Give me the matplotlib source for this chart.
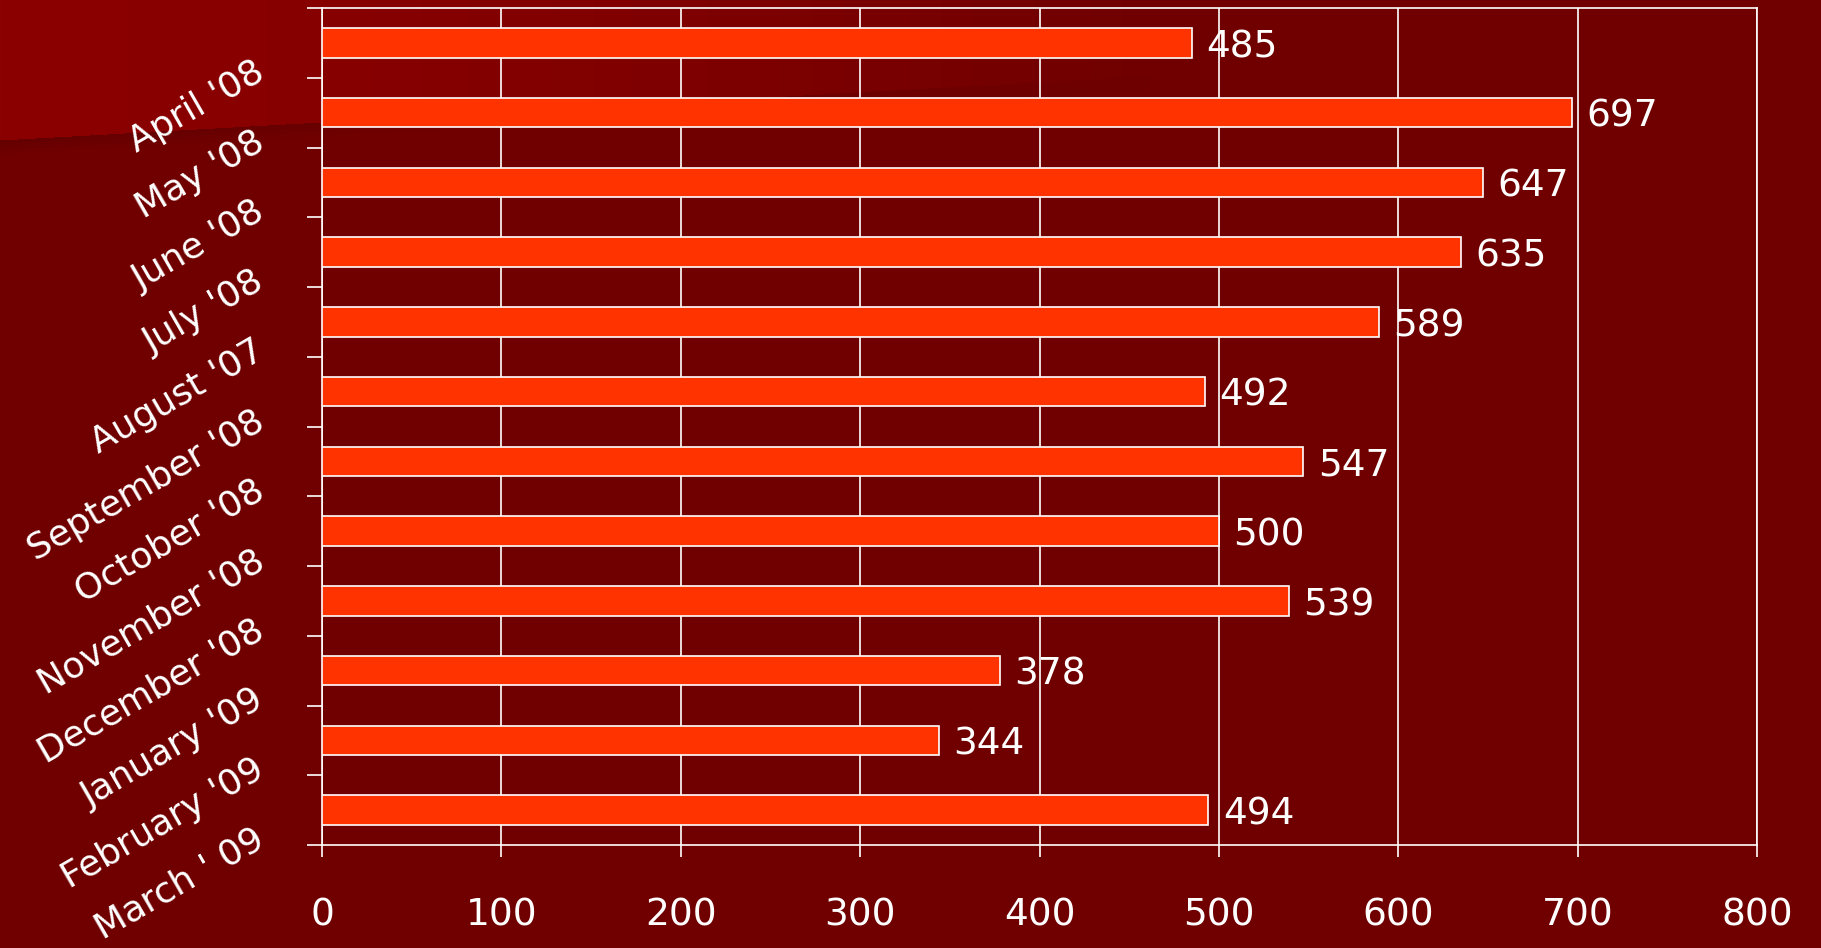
import numpy as np
import matplotlib
matplotlib.use('Agg')
import matplotlib.pyplot as plt
import matplotlib.transforms as mtransforms

months = ["April '08", "May '08", "June '08", "July '08", "August '07",
          "September '08", "October '08", "November '08", "December '08",
          "January '09", "February '09", "March ' 09"]
values = [485, 697, 647, 635, 589, 492, 547, 500, 539, 378, 344, 494]
xticks = [0, 100, 200, 300, 400, 500, 600, 700, 800]

plt.rcParams['font.family'] = 'DejaVu Sans'

W, H = 1821, 948
fig = plt.figure(figsize=(W / 100, H / 100), dpi=100)

# background: dark red with a lighter sloped panel in the top-left
xx, yy = np.meshgrid(np.arange(W), np.arange(H))
bg = np.zeros((H, W, 3))
bg[..., 0] = 112 / 255
edge = 140 - 0.056 * xx
top = yy < edge
light = 112 + 27 * np.clip(1 - (xx / 1150) ** 1.5, 0, 1)
bg[..., 0] = np.where(top, light / 255, bg[..., 0])
shadow = (yy >= edge) & (yy < edge + 14)
shade = 100 + 12 * (yy - edge) / 14
shade = shade + (112 - shade) * np.clip(xx / 1150, 0, 1)
bg[..., 0] = np.where(shadow, shade / 255, bg[..., 0])
bax = fig.add_axes([0, 0, 1, 1], zorder=-1)
bax.imshow(bg, aspect='auto', interpolation='nearest')
bax.axis('off')

ax = fig.add_axes([322 / W, 1 - 845 / H, (1757 - 322) / W, (845 - 8) / H])
ax.set_facecolor('none')

y = np.arange(len(months))
ax.barh(y, values, height=0.42, color='#FF3300', edgecolor='white',
        linewidth=1.2, zorder=3)

for yi, v in zip(y, values):
    ax.annotate(str(v), (v, yi), xytext=(10.5, -3), textcoords='offset points',
                ha='left', va='center', color='white', fontsize=27)

ax.set_xlim(0, 800)
ax.set_ylim(len(months) - 0.5, -0.5)
ax.set_xticks(xticks)
ax.set_xticklabels([str(t) for t in xticks], fontsize=27, color='white')
ax.tick_params(axis='x', length=8.6, width=1.2, color='white', pad=29)
ax.xaxis.grid(True, color='white', linewidth=1.2, zorder=0)
ax.set_axisbelow(True)

ax.set_yticks(np.arange(len(months) + 1) - 0.5)
ax.set_yticklabels([])
ax.tick_params(axis='y', length=11, width=1.2, color='white')

off = mtransforms.ScaledTranslation(-52 / 100, -12 / 100, fig.dpi_scale_trans)
for yi, m in zip(y, months):
    ax.text(0, yi, m, transform=ax.get_yaxis_transform() + off,
            rotation=30, ha='right', va='top', color='white', fontsize=26)

for s in ax.spines.values():
    s.set_color('white')
    s.set_linewidth(1.2)

fig.savefig('out.png', dpi=100)
